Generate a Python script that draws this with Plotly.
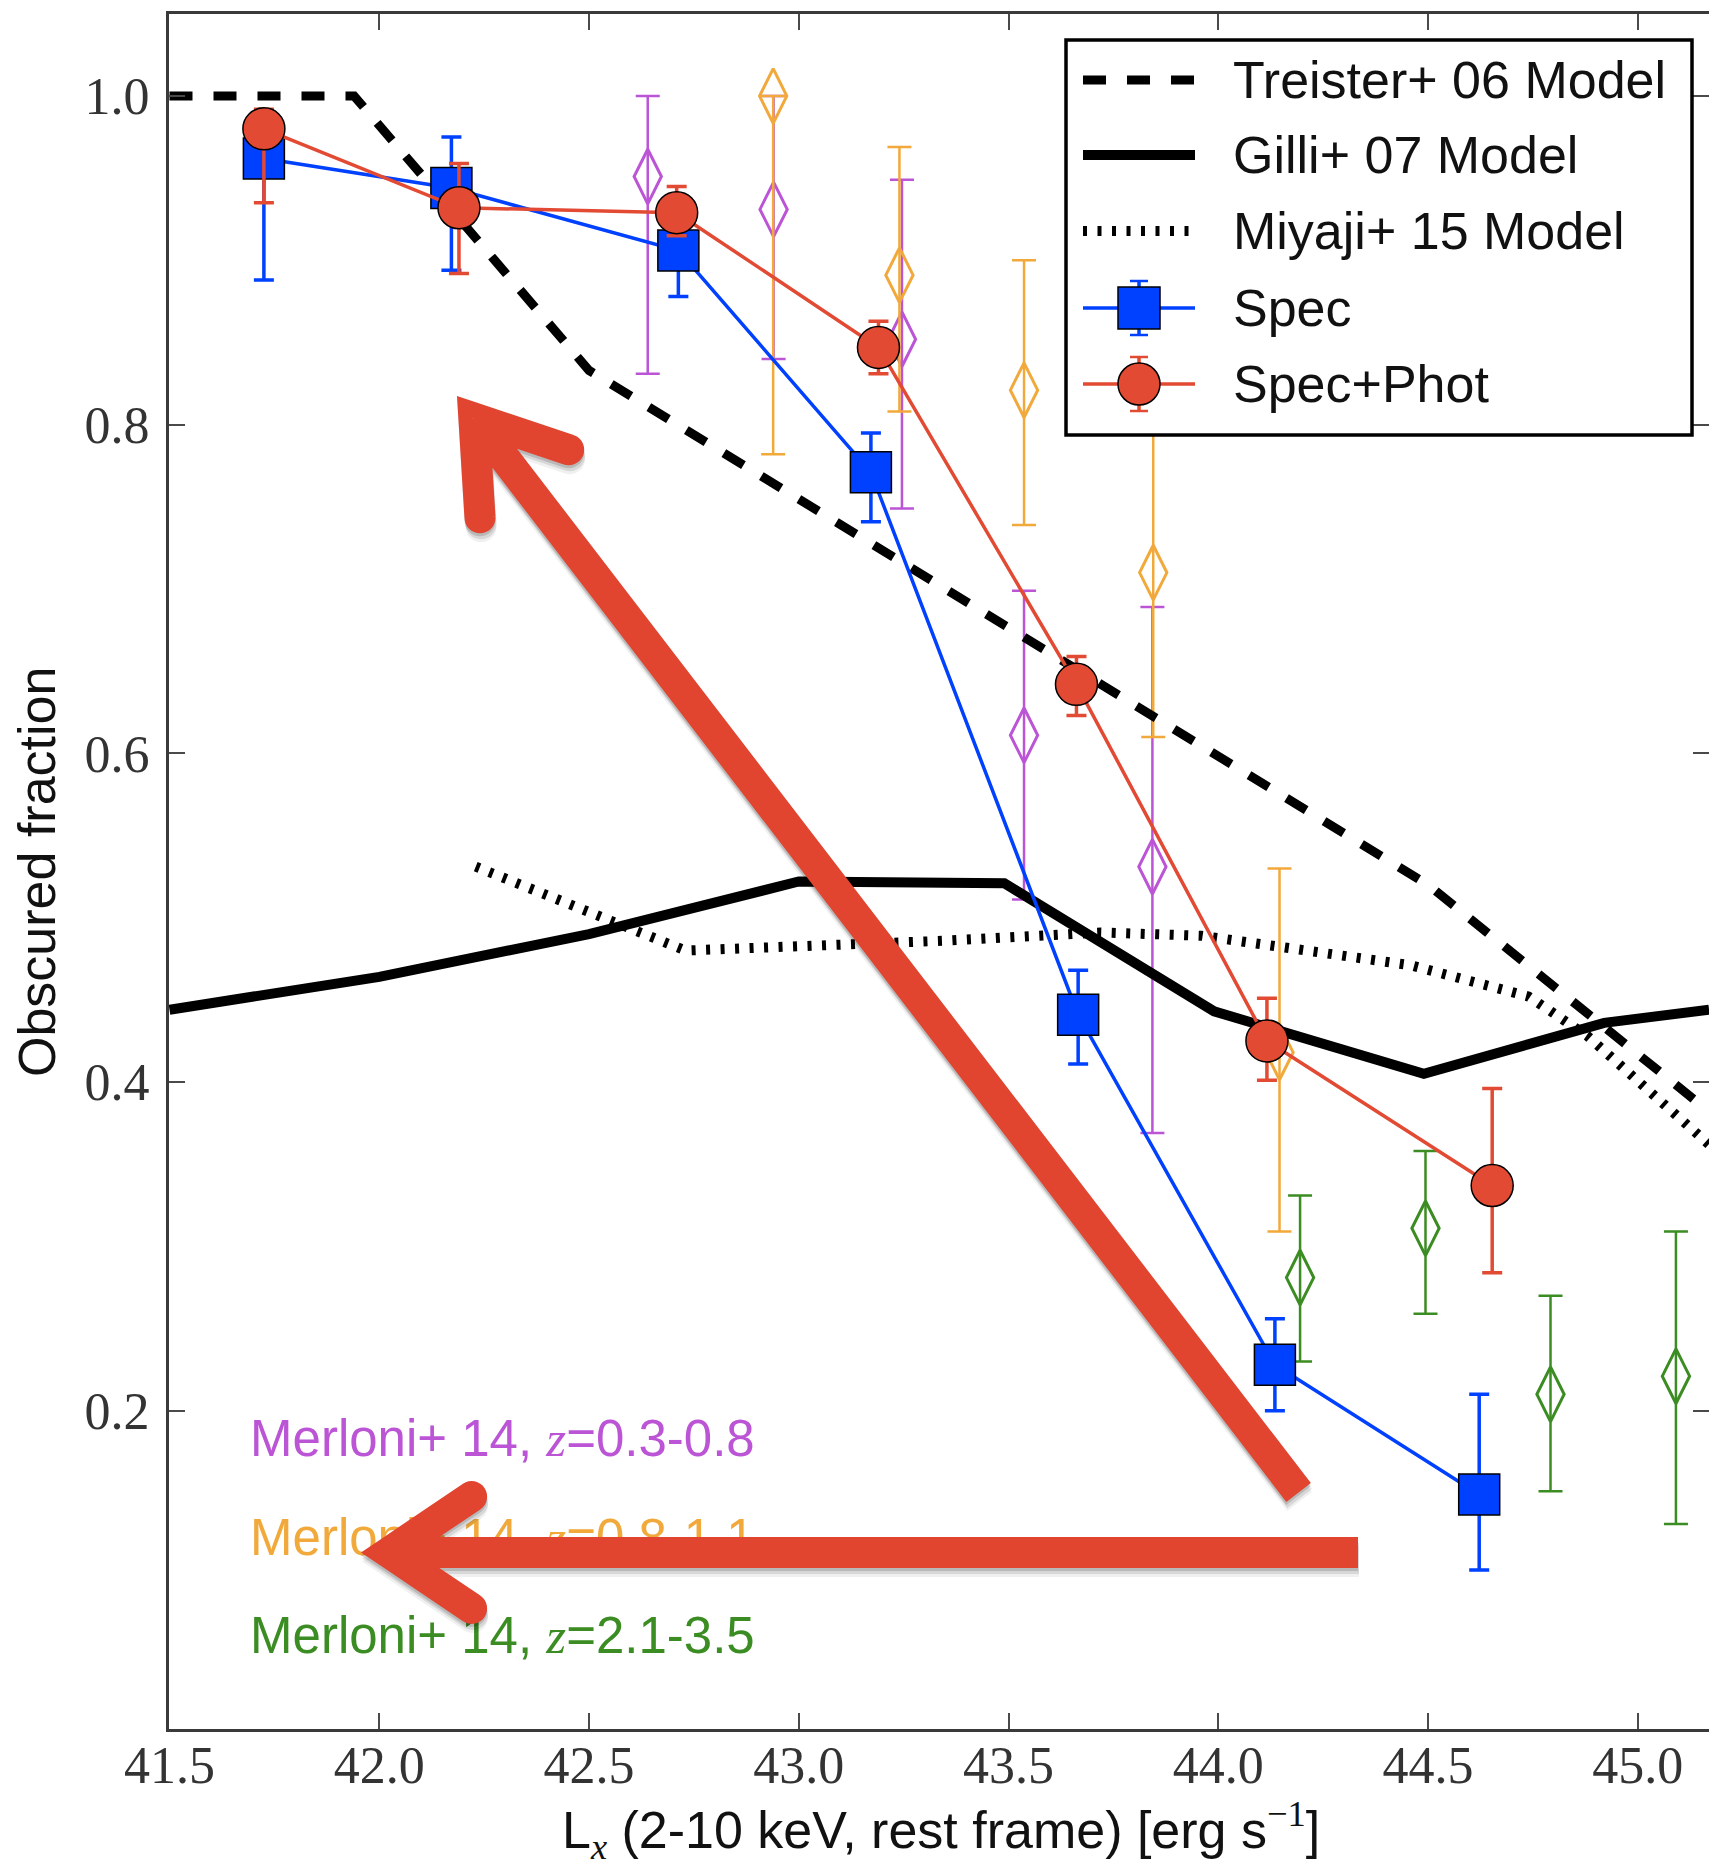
import math
import plotly.graph_objects as go

# ---------------------------------------------------------------- data
# Obscured fraction against log hard X-ray luminosity

spec_lx = [41.725, 42.172, 42.713, 43.172, 43.666, 44.135, 44.622]
spec_frac = [0.962, 0.944, 0.906, 0.771, 0.441, 0.228, 0.149]
spec_err_hi = [0.015, 0.031, 0.020, 0.024, 0.027, 0.028, 0.061]
spec_err_lo = [0.074, 0.050, 0.028, 0.030, 0.030, 0.028, 0.046]

specphot_lx = [41.725, 42.190, 42.709, 43.190, 43.662, 44.116, 44.653]
specphot_frac = [0.980, 0.932, 0.929, 0.847, 0.642, 0.425, 0.337]
specphot_err_hi = [0.012, 0.027, 0.016, 0.016, 0.017, 0.026, 0.059]
specphot_err_lo = [0.045, 0.040, 0.014, 0.016, 0.019, 0.024, 0.053]

merloni_lo_lx = [42.640, 42.940, 43.246, 43.537, 43.843]
merloni_lo_frac = [0.951, 0.931, 0.852, 0.611, 0.531]
merloni_lo_err_hi = [0.049, 0.069, 0.097, 0.088, 0.158]
merloni_lo_err_lo = [0.120, 0.091, 0.103, 0.100, 0.162]

merloni_mid_lx = [42.939, 43.240, 43.537, 43.845, 44.146]
merloni_mid_frac = [1.000, 0.891, 0.821, 0.710, 0.418]
merloni_mid_err_hi = [0.000, 0.078, 0.079, 0.130, 0.112]
merloni_mid_err_lo = [0.218, 0.083, 0.082, 0.100, 0.109]

merloni_hi_lx = [44.195, 44.494, 44.792, 45.091]
merloni_hi_frac = [0.281, 0.311, 0.210, 0.221]
merloni_hi_err_hi = [0.050, 0.047, 0.060, 0.088]
merloni_hi_err_lo = [0.051, 0.052, 0.059, 0.090]

treister_lx = [41.50, 41.94, 42.50, 44.50, 45.17]
treister_frac = [1.000, 1.000, 0.833, 0.520, 0.382]

gilli_lx = [41.50, 42.00, 42.50, 43.00, 43.49, 43.99, 44.49, 44.92, 45.17]
gilli_frac = [0.444, 0.464, 0.490, 0.522, 0.521, 0.443, 0.405, 0.436, 0.444]

miyaji_lx = [42.23, 42.73, 43.35, 43.72, 43.96, 44.14, 44.46, 44.74, 44.88, 45.17]
miyaji_frac = [0.531, 0.480, 0.486, 0.491, 0.489, 0.482, 0.471, 0.452, 0.428, 0.362]

x_ticks = [41.5, 42.0, 42.5, 43.0, 43.5, 44.0, 44.5, 45.0]
y_ticks = [0.2, 0.4, 0.6, 0.8, 1.0]

legend_names = ["Treister+ 06 Model", "Gilli+ 07 Model", "Miyaji+ 15 Model",
                "Spec", "Spec+Phot"]
merloni_labels = ["0.3-0.8", "0.8-1.1", "2.1-3.5"]

# ---------------------------------------------------------------- styles
BLUE = "#0040ff"
RED = "#e24a33"
PURPLE = "#bb55d6"
ORANGE = "#f2a93b"
GREEN = "#3b8d23"
ARROW_RED = "#e1442f"
SANS = "Liberation Sans, Arial, sans-serif"
SERIF = "Liberation Serif, Times New Roman, serif"

FIG_W, FIG_H = 1709, 1867
M_L, M_R, M_T, M_B = 169, 0, 14, 138
PLOT_W = FIG_W - M_L - M_R
PLOT_H = FIG_H - M_T - M_B
X_RANGE = [41.4988, 45.1698]
Y_RANGE = [0.0063, 1.0499]


def paper(px, py):
    """Pixel position on the page -> paper coordinates."""
    return (px - M_L) / PLOT_W, (FIG_H - M_B - py) / PLOT_H


fig = go.Figure()


def merloni_trace(lx, frac, hi, lo, color):
    return go.Scatter(
        x=lx, y=frac, mode="markers", showlegend=False,
        marker=dict(symbol="diamond-tall-open", size=39, color=color,
                    line=dict(width=3, color=color)),
        error_y=dict(type="data", symmetric=False, array=hi, arrayminus=lo,
                     color=color, thickness=2.5, width=12),
    )


fig.add_trace(merloni_trace(merloni_lo_lx, merloni_lo_frac, merloni_lo_err_hi,
                            merloni_lo_err_lo, PURPLE))
fig.add_trace(merloni_trace(merloni_mid_lx, merloni_mid_frac, merloni_mid_err_hi,
                            merloni_mid_err_lo, ORANGE))
fig.add_trace(merloni_trace(merloni_hi_lx, merloni_hi_frac, merloni_hi_err_hi,
                            merloni_hi_err_lo, GREEN))

# model curves
fig.add_trace(go.Scatter(x=treister_lx, y=treister_frac, mode="lines", showlegend=False,
                         line=dict(color="black", width=9, dash="23px,21px")))
fig.add_trace(go.Scatter(x=gilli_lx, y=gilli_frac, mode="lines", showlegend=False,
                         line=dict(color="black", width=10)))
fig.add_trace(go.Scatter(x=miyaji_lx, y=miyaji_frac, mode="lines", showlegend=False,
                         line=dict(color="black", width=10, dash="4px,10.5px")))

# measured fractions
fig.add_trace(go.Scatter(
    x=spec_lx, y=spec_frac, mode="lines+markers", showlegend=False,
    line=dict(color=BLUE, width=3.5),
    marker=dict(symbol="square", size=41, color=BLUE, line=dict(width=1.5, color="black")),
    error_y=dict(type="data", symmetric=False, array=spec_err_hi, arrayminus=spec_err_lo,
                 color=BLUE, thickness=3.5, width=10),
))
fig.add_trace(go.Scatter(
    x=specphot_lx, y=specphot_frac, mode="lines+markers", showlegend=False,
    line=dict(color=RED, width=3.5),
    marker=dict(symbol="circle", size=42, color=RED, line=dict(width=1.5, color="black")),
    error_y=dict(type="data", symmetric=False, array=specphot_err_hi,
                 arrayminus=specphot_err_lo, color=RED, thickness=3.5, width=10),
))

# survey labels (drawn on the overlay axis so the arrows can sit on top)
z_it = '<span style="font-family:Liberation Serif"><i>z</i></span>'
fig.add_trace(go.Scatter(
    x=[41.692] * 3, y=[0.180, 0.120, 0.0605], yaxis="y2", mode="text",
    showlegend=False, textposition="middle right",
    text=[f"Merloni+ 14, {z_it}={r}" for r in merloni_labels],
    textfont=dict(family=SANS, size=51, color=[PURPLE, ORANGE, GREEN]),
))

# ---------------------------------------------------------------- arrows


def _path(points):
    pts = [paper(x, y) for x, y in points]
    n = len(pts)
    area = sum(pts[i][0] * pts[(i + 1) % n][1] - pts[(i + 1) % n][0] * pts[i][1]
               for i in range(n))
    if area < 0:
        pts.reverse()
    return "M" + "L".join(f"{x:.5f},{y:.5f}" for x, y in pts) + "Z"


def arrow_polys(tip, tail, width=31, half_angle=34, arm_len=100):
    tx, ty = tip
    ex, ey = tail
    length = math.hypot(ex - tx, ey - ty)
    dx, dy = (ex - tx) / length, (ey - ty) / length
    h = width / 2
    th = math.radians(half_angle)
    off = h / math.sin(th)
    vx, vy = tx + dx * off, ty + dy * off

    def rect(ax, ay, bx, by):
        l = math.hypot(bx - ax, by - ay)
        ux, uy = (bx - ax) / l, (by - ay) / l
        nx, ny = -uy * h, ux * h
        return [(ax + nx, ay + ny), (bx + nx, by + ny), (bx - nx, by - ny), (ax - nx, ay - ny)]

    polys = [rect(vx, vy, ex, ey)]
    outer = []
    for s in (1, -1):
        c, sn = math.cos(s * th), math.sin(s * th)
        axx, ayy = dx * c - dy * sn, dx * sn + dy * c
        endx, endy = vx + axx * arm_len, vy + ayy * arm_len
        polys.append(rect(vx, vy, endx, endy))
        polys.append([(endx + h * math.cos(2 * math.pi * k / 32),
                       endy + h * math.sin(2 * math.pi * k / 32)) for k in range(32)])
        nx, ny = -ayy * h, axx * h
        if (tx - vx) * nx + (ty - vy) * ny > 0:
            outer.append((vx + nx, vy + ny))
        else:
            outer.append((vx - nx, vy - ny))
    polys.append([(tx, ty), outer[0], (vx, vy), outer[1]])
    return polys


arrows = [
    arrow_polys((457, 396), (1298.6, 1492.5)),
    arrow_polys((361, 1552.5), (1358, 1552.5)),
]

shapes = []
for (sx, sy, alpha) in [(0, 3, 0.14), (1, 6, 0.10), (1, 9, 0.06)]:
    for polys in arrows:
        moved = [[(x + sx, y + sy) for x, y in p] for p in polys]
        shapes.append(dict(type="path", xref="paper", yref="paper", layer="above",
                           path="".join(_path(p) for p in moved), fillrule="nonzero",
                           fillcolor=f"rgba(0,0,0,{alpha})", line=dict(width=0)))
for polys in arrows:
    shapes.append(dict(type="path", xref="paper", yref="paper", layer="above",
                       path="".join(_path(p) for p in polys), fillrule="nonzero",
                       fillcolor=ARROW_RED, line=dict(width=0)))

# ---------------------------------------------------------------- legend box
bx0, by0 = paper(1066, 40)
bx1, by1 = paper(1692, 435)
shapes.append(dict(type="rect", xref="paper", yref="paper", layer="above",
                   x0=bx0, x1=bx1, y0=by0, y1=by1, fillcolor="white",
                   line=dict(color="black", width=3.5)))

rows = [80, 155, 231, 308, 384]
s_x0, s_x1, s_xc = 1083, 1195, 1139


def hline(y, color, width, dash="solid"):
    a = paper(s_x0, y)
    b = paper(s_x1, y)
    return dict(type="line", xref="paper", yref="paper", layer="above",
                x0=a[0], y0=a[1], x1=b[0], y1=b[1],
                line=dict(color=color, width=width, dash=dash))


shapes.append(hline(rows[0], "black", 9, "23px,21px"))
shapes.append(hline(rows[1], "black", 10))
shapes.append(hline(rows[2], "black", 10, "4px,10.5px"))
for y, color, kind in [(rows[3], BLUE, "rect"), (rows[4], RED, "circle")]:
    shapes.append(hline(y, color, 3.5))
    top = paper(s_xc, y - 27)
    bot = paper(s_xc, y + 27)
    shapes.append(dict(type="line", xref="paper", yref="paper", layer="above",
                       x0=top[0], y0=top[1], x1=bot[0], y1=bot[1],
                       line=dict(color=color, width=3.5)))
    for yy in (y - 27, y + 27):
        a = paper(s_xc - 9, yy)
        b = paper(s_xc + 9, yy)
        shapes.append(dict(type="line", xref="paper", yref="paper", layer="above",
                           x0=a[0], y0=a[1], x1=b[0], y1=b[1],
                           line=dict(color=color, width=2.5)))
    p0 = paper(s_xc - 21, y - 21)
    p1 = paper(s_xc + 21, y + 21)
    shapes.append(dict(type=kind, xref="paper", yref="paper", layer="above",
                       x0=p0[0], y0=p1[1], x1=p1[0], y1=p0[1], fillcolor=color,
                       line=dict(color="black", width=1.5)))

annotations = []
for name, y in zip(legend_names, rows):
    ax_, ay_ = paper(1231, y)
    annotations.append(dict(xref="paper", yref="paper", x=ax_, y=ay_, text=name,
                            showarrow=False, xanchor="left", yanchor="middle",
                            font=dict(family=SANS, size=52, color="#111111")))

# axis titles
tx, ty = paper(941, 1831)
annotations.append(dict(
    xref="paper", yref="paper", x=tx, y=ty, showarrow=False,
    xanchor="center", yanchor="middle",
    text='L<sub><span style="font-family:Liberation Serif"><i>x</i></span></sub>'
         ' (2-10 keV, rest frame) [erg s<sup><span style="font-family:Liberation Serif">'
         '\u22121</span></sup>]',
    font=dict(family=SANS, size=52, color="#111111")))
tx, ty = paper(37, 872)
annotations.append(dict(
    xref="paper", yref="paper", x=tx, y=ty, showarrow=False, textangle=-90,
    xanchor="center", yanchor="middle", text="Obscured fraction",
    font=dict(family=SANS, size=52, color="#111111")))

AXIS_COLOR = "#3a3a3a"
TICK = dict(ticks="inside", ticklen=16, tickwidth=2, tickcolor="#4a4a4a")

fig.update_layout(
    width=FIG_W, height=FIG_H,
    margin=dict(l=M_L, r=M_R, t=M_T, b=M_B, autoexpand=False),
    paper_bgcolor="white", plot_bgcolor="white",
    showlegend=False,
    xaxis=dict(range=X_RANGE, tickvals=x_ticks, ticktext=[f"{v:.1f}" for v in x_ticks],
               showline=True, linecolor=AXIS_COLOR, linewidth=3, mirror="ticks",
               showgrid=False, zeroline=False, ticklabelstandoff=-11,
               tickfont=dict(family=SERIF, size=52, color="#333333"), **TICK),
    yaxis=dict(range=Y_RANGE, tickvals=y_ticks, ticktext=[f"{v:.1f}" for v in y_ticks],
               showline=True, linecolor=AXIS_COLOR, linewidth=3, mirror=False,
               showgrid=False, zeroline=False, ticklabelstandoff=6,
               tickfont=dict(family=SERIF, size=52, color="#333333"), **TICK),
    yaxis2=dict(range=Y_RANGE, overlaying="y", side="right", anchor="x",
                tickvals=y_ticks, showticklabels=False, showline=False,
                showgrid=False, zeroline=False, **TICK),
    shapes=shapes,
    annotations=annotations,
)

fig.write_html("out.html")
